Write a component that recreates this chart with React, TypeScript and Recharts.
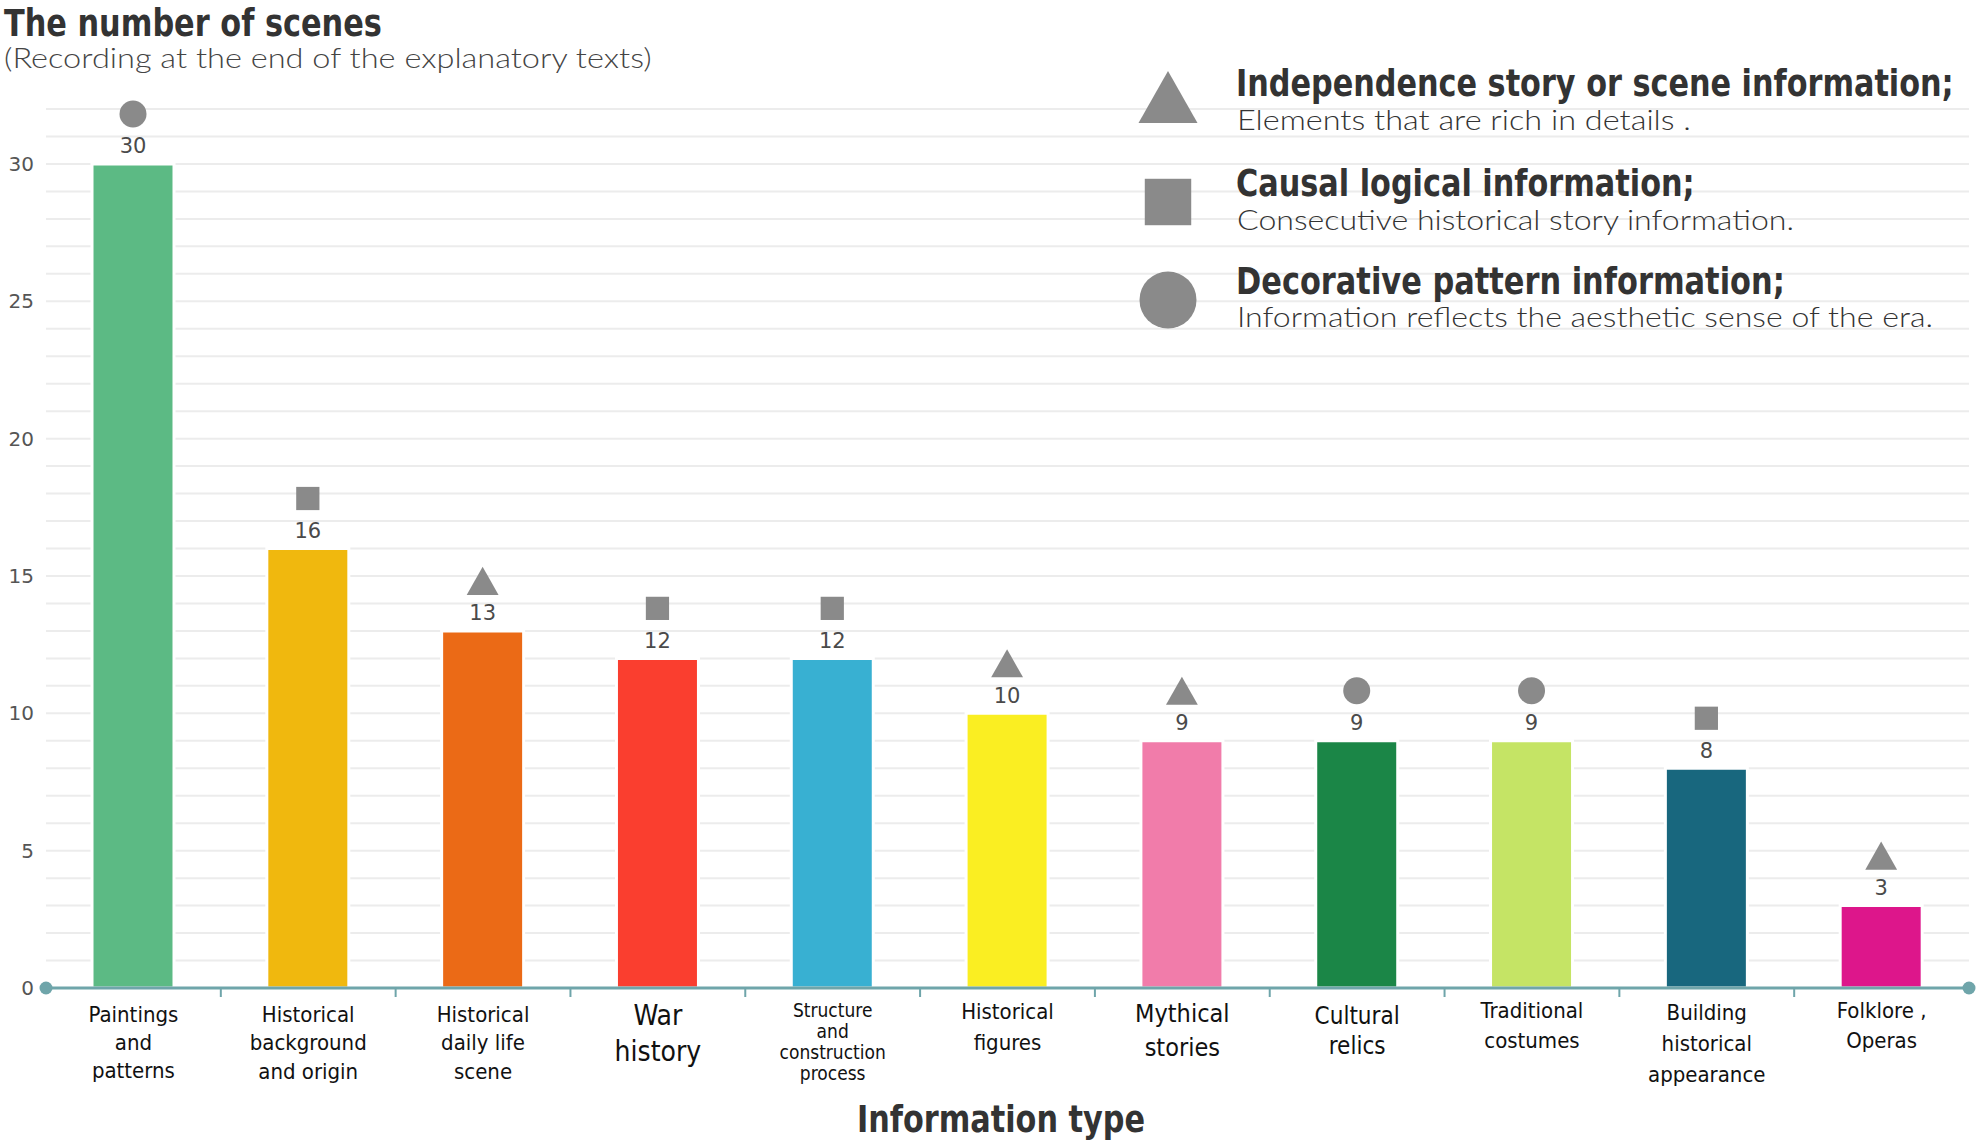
import React, { useLayoutEffect, useRef, useState } from 'react';
import { BarChart, Bar, XAxis, YAxis, CartesianGrid, Cell, LabelList } from 'recharts';

// Category labels, one entry per line of the tick label
const categoryLines: string[][] = [
  ['Paintings', 'and', 'patterns'],
  ['Historical', 'background', 'and origin'],
  ['Historical', 'daily life', 'scene'],
  ['War', 'history'],
  ['Structure', 'and', 'construction', 'process'],
  ['Historical', 'figures'],
  ['Mythical', 'stories'],
  ['Cultural', 'relics'],
  ['Traditional', 'costumes'],
  ['Building', 'historical', 'appearance'],
  ['Folklore ,', 'Operas'],
];

const sceneCounts = [30, 16, 13, 12, 12, 10, 9, 9, 9, 8, 3];

// triangle = independence story, square = causal logic, circle = decorative pattern
const infoKinds = [
  'circle', 'square', 'triangle', 'square', 'square', 'triangle',
  'triangle', 'circle', 'circle', 'square', 'triangle',
];

const yTicks = [
  0, 1, 2, 3, 4, 5, 6, 7, 8, 9, 10, 11, 12, 13, 14, 15, 16,
  17, 18, 19, 20, 21, 22, 23, 24, 25, 26, 27, 28, 29, 30, 31, 32,
];

const legendKinds = ['triangle', 'square', 'circle'];
const legendTitles = [
  'Independence story or scene information;',
  'Causal logical information;',
  'Decorative pattern information;',
];
const legendNotes = [
  'Elements that are rich in details .',
  'Consecutive historical story information.',
  'Information reflects the aesthetic sense of the era.',
];

const data = sceneCounts.map((count, i) => ({
  name: categoryLines[i].join(' '),
  count,
  kind: infoKinds[i],
}));

// ---- styles ----
const W = 1982;
const H = 1146;
const MARGIN = { top: 109, right: 13, bottom: 0, left: 0 };
const Y_AXIS_W = 46;
const X_AXIS_H = H - 988;
const STEP = (W - MARGIN.left - MARGIN.right - Y_AXIS_W) / categoryLines.length;

const barColors = [
  '#5cba84', '#f0b80e', '#eb6a16', '#fa3e2f', '#38b0d2', '#faee22',
  '#f17caa', '#1b8647', '#c5e465', '#18677e', '#dd168b',
];
const AXIS_COLOR = '#6fa5aa';
const MARKER_COLOR = '#8a8a8a';
const TITLE_FONT = '"DejaVu Sans Condensed", "DejaVu Sans", sans-serif';
const LIGHT_FONT = 'Lato, "Open Sans", sans-serif';
const TICK_FONT = '"DejaVu Sans Condensed", "DejaVu Sans", sans-serif';
const NUM_FONT = '"DejaVu Sans", sans-serif';

// per-category tick text layout: font size, first line center, line gap
const tickStyles = [
  { fs: 22, first: 26, gap: 28 },
  { fs: 22, first: 26, gap: 28.5 },
  { fs: 22, first: 26, gap: 28.5 },
  { fs: 28, first: 27, gap: 36 },
  { fs: 19, first: 22, gap: 21 },
  { fs: 22, first: 23, gap: 31 },
  { fs: 25, first: 25, gap: 34 },
  { fs: 24, first: 27, gap: 30 },
  { fs: 22, first: 22, gap: 30 },
  { fs: 22, first: 24, gap: 31 },
  { fs: 22, first: 22, gap: 30 },
];

// text squeezed horizontally to a given width (the reference uses condensed fonts)
const FitText = (props: any) => {
  const { x, y, width, children, anchor = 'start', ...rest } = props;
  const ref = useRef<SVGTextElement>(null);
  const [sx, setSx] = useState(1);
  useLayoutEffect(() => {
    if (!ref.current) return;
    const w = ref.current.getComputedTextLength();
    if (w > 0) setSx(width / w);
  }, [width]);
  return (
    <text ref={ref} transform={`translate(${x},${y}) scale(${sx},1)`} textAnchor={anchor} {...rest}>
      {children}
    </text>
  );
};

const Marker = ({ kind, cx, cy, size }: { kind: string; cx: number; cy: number; size: number }) => {
  if (kind === 'circle') return <circle cx={cx} cy={cy} r={size * 0.5} fill={MARKER_COLOR} />;
  if (kind === 'square') {
    const s = size * 0.86;
    return <rect x={cx - s / 2} y={cy - s / 2} width={s} height={s} fill={MARKER_COLOR} />;
  }
  const w = size * 1.18;
  const h = size * 1.04;
  return (
    <polygon
      points={`${cx - w / 2},${cy + h / 2} ${cx + w / 2},${cy + h / 2} ${cx},${cy - h / 2}`}
      fill={MARKER_COLOR}
    />
  );
};

const ValueLabel = (props: any) => {
  const { x, y, width, value } = props;
  return (
    <text
      x={x + width / 2}
      y={y - 18}
      dy="0.36em"
      textAnchor="middle"
      fontFamily={NUM_FONT}
      fontSize={21}
      fill="#4a4a4a"
    >
      {value}
    </text>
  );
};

const KindLabel = (props: any) => {
  const { x, y, width, value } = props;
  const cx = x + width / 2;
  return <Marker kind={value} cx={cx} cy={y - 50} size={27} />;
};

const CategoryTick = (props: any) => {
  const { x, y, index } = props;
  const lines = categoryLines[index] || [];
  const st = tickStyles[index];
  const last = index === categoryLines.length - 1;
  return (
    <g>
      {index > 0 && (
        <line x1={x - STEP / 2} x2={x - STEP / 2} y1={y} y2={y + 9} stroke={AXIS_COLOR} strokeWidth={2} />
      )}
      {index === 0 && <circle cx={x - STEP / 2} cy={y} r={6.5} fill={AXIS_COLOR} />}
      {last && <circle cx={x + STEP / 2} cy={y} r={6.5} fill={AXIS_COLOR} />}
      {lines.map((ln, i) => (
        <text
          key={i}
          x={x}
          y={y + st.first + i * st.gap}
          dy="0.36em"
          textAnchor="middle"
          fontFamily={TICK_FONT}
          fontSize={st.fs}
          fill="#111"
        >
          {ln}
        </text>
      ))}
    </g>
  );
};

const Overlay = () => (
  <svg
    width={W}
    height={H}
    style={{ position: 'absolute', left: 0, top: 0, pointerEvents: 'none' }}
  >
    <FitText x={4} y={36} width={378} fontFamily={TITLE_FONT} fontWeight="bold" fontSize={37} fill="#333">
      The number of scenes
    </FitText>
    <FitText x={4} y={68} width={648} fontFamily={LIGHT_FONT} fontWeight={300} fontSize={28} fill="#444">
      (Recording at the end of the explanatory texts)
    </FitText>

    {legendKinds.map((kind, i) => {
      const shapeY = [97, 202, 300][i];
      const titleY = [96, 196, 294][i];
      const noteY = [130, 230, 327][i];
      const titleW = [718, 459, 549][i];
      const noteW = [454, 557, 696][i];
      return (
        <g key={kind}>
          <Marker kind={kind} cx={1168} cy={shapeY} size={kind === 'circle' ? 57 : kind === 'square' ? 54 : 50} />
          <FitText x={1236} y={titleY} width={titleW} fontFamily={TITLE_FONT} fontWeight="bold"
            fontSize={37} fill="#333">
            {legendTitles[i]}
          </FitText>
          <FitText x={1237} y={noteY} width={noteW} fontFamily={LIGHT_FONT} fontWeight={300}
            fontSize={28} fill="#333">
            {legendNotes[i]}
          </FitText>
        </g>
      );
    })}

    <FitText x={1001} y={1132} width={288} anchor="middle" fontFamily={TITLE_FONT} fontWeight="bold"
      fontSize={37} fill="#333">
      Information type
    </FitText>
  </svg>
);

export default function App() {
  return (
    <div style={{ position: 'absolute', left: 0, top: 0, width: W, height: H, background: '#fff' }}>
      <BarChart width={W} height={H} data={data} margin={MARGIN} barCategoryGap="0%">
        <CartesianGrid vertical={false} stroke="#ececec" strokeWidth={2} />
        <YAxis
          width={Y_AXIS_W}
          domain={[0, 32]}
          ticks={yTicks}
          interval={0}
          axisLine={false}
          tickLine={false}
          tickSize={6}
          tickMargin={6}
          tickFormatter={(v: number) => (v % 5 === 0 ? String(v) : '')}
          tick={{ fontFamily: NUM_FONT, fontSize: 20, fill: '#555' }}
        />
        <XAxis
          dataKey="name"
          height={X_AXIS_H}
          interval={0}
          tickLine={false}
          tickSize={0}
          tickMargin={0}
          axisLine={{ stroke: AXIS_COLOR, strokeWidth: 3 }}
          tick={<CategoryTick />}
        />
        <Bar dataKey="count" barSize={82} stroke="#fff" strokeWidth={3} isAnimationActive={false}>
          {data.map((d, i) => (
            <Cell key={d.name} fill={barColors[i]} />
          ))}
          <LabelList dataKey="count" content={<ValueLabel />} />
          <LabelList dataKey="kind" content={<KindLabel />} />
        </Bar>
      </BarChart>
      <Overlay />
    </div>
  );
}
